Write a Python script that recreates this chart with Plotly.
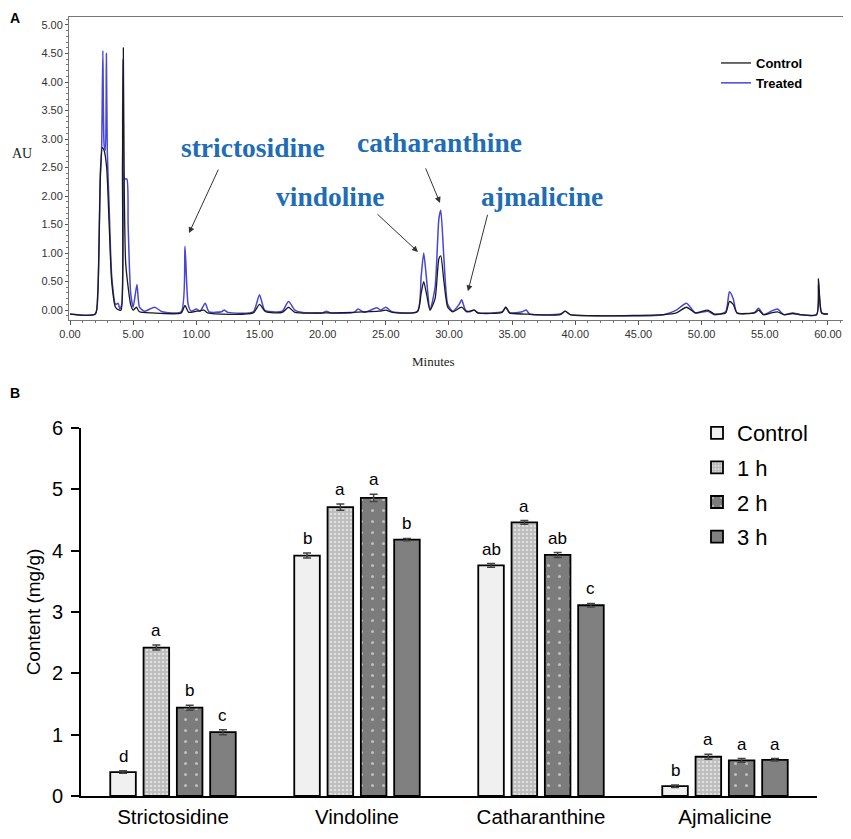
import plotly.graph_objects as go

# ---- panel A: chromatogram traces (minutes, AU)
ctrl_t = [0, 2.0, 2.2, 2.4, 2.55, 2.7, 2.9, 3.1, 3.3, 3.6, 3.9, 4.05, 4.15, 4.22, 4.3, 4.4, 4.55, 4.8, 5.0,
          5.25, 5.5, 6.5, 8.8, 9.1, 9.4, 10.6, 10.9, 14.5, 15.0, 15.5, 16.8, 17.3, 17.8, 20.0, 24.5, 25.0,
          25.5, 27.5, 27.8, 28.0, 28.25, 28.5, 28.9, 29.2, 29.35, 29.6, 29.9, 30.3, 31.0, 31.4, 32.0, 32.3,
          34.2, 34.5, 34.8, 36.0, 38.8, 39.2, 39.6, 42.0, 47.0, 48.0, 48.8, 49.5, 50.5, 51.0, 51.9, 52.2,
          52.5, 52.8, 54.2, 54.5, 54.9, 55.5, 56.0, 56.5, 57.2, 57.8, 59.1, 59.25, 59.35, 59.5, 60.0]
ctrl_au = [-0.07, -0.07, 0.3, 2.3, 2.85, 2.8, 2.5, 1.5, 0.5, 0.05, 0.0, 0.0, 2.5, 4.6, 2.0, 0.85, 0.5, 0.1, 0.0,
           0.05, -0.03, -0.05, -0.05, 0.08, -0.04, 0.0, -0.05, -0.05, 0.1, -0.03, -0.04, 0.05, -0.04, -0.05, -0.02, 0.0,
           -0.04, -0.03, 0.3, 0.5, 0.25, 0.0, 0.2, 0.9, 0.95, 0.5, 0.05, -0.03, 0.05, -0.03, 0.0, -0.05,
           -0.04, 0.05, -0.05, -0.07, -0.08, -0.02, -0.08, -0.1, -0.08, -0.05, 0.05, -0.05, 0.0, -0.07, -0.05, 0.15,
           0.1, -0.05, -0.05, 0.0, -0.08, -0.05, -0.03, -0.08, -0.06, -0.08, -0.08, 0.55, 0.2, -0.05, -0.07]

trt_t = [0, 2.0, 2.2, 2.4, 2.5, 2.6, 2.7, 2.8, 2.88, 2.95, 3.1, 3.3, 3.6, 3.8, 3.95, 4.1, 4.2, 4.3, 4.5, 4.6,
         4.8, 5.0, 5.3, 5.5, 5.9, 6.7, 7.3, 8.8, 9.1, 9.35, 9.6, 10.0, 10.3, 10.7, 11.0, 12.0, 12.2, 12.5,
         14.5, 15.0, 15.4, 16.0, 16.8, 17.3, 17.8, 18.3, 20.0, 20.3, 20.6, 22.5, 22.8, 23.3, 24.3, 24.6,
         25.0, 25.5, 27.5, 27.8, 28.0, 28.2, 28.5, 28.9, 29.2, 29.35, 29.6, 29.9, 30.3, 30.8, 31.0, 31.3,
         31.6, 32.0, 32.3, 34.2, 34.5, 34.8, 35.8, 36.1, 36.4, 38.8, 39.2, 39.6, 42.0, 47.0, 48.0, 48.8,
         49.5, 50.5, 51.0, 51.9, 52.2, 52.5, 52.8, 54.2, 54.5, 54.9, 55.5, 56.0, 56.5, 57.2, 57.8, 59.1,
         59.25, 59.35, 59.5, 60.0]
trt_au = [-0.07, -0.07, 0.3, 2.4, 2.8, 4.55, 2.9, 2.8, 4.5, 2.8, 1.8, 0.6, 0.1, 0.12, 0.02, 0.1, 4.4, 2.3, 2.3, 1.5,
          0.3, 0.05, 0.45, 0.05, -0.02, 0.05, -0.03, -0.03, 1.12, 0.1, -0.02, 0.02, -0.02, 0.12, -0.03, -0.03, 0.0, -0.04,
          -0.03, 0.27, 0.0, -0.03, -0.02, 0.15, 0.0, -0.04, -0.05, -0.02, -0.05, -0.04, 0.02, -0.04, 0.04, 0.0,
          0.05, -0.03, -0.02, 0.6, 1.0, 0.6, 0.0, 0.4, 1.6, 1.75, 0.9, 0.1, -0.02, 0.1, 0.18, 0.0,
          -0.03, 0.0, -0.05, -0.03, 0.05, -0.05, -0.03, 0.0, -0.07, -0.07, -0.02, -0.08, -0.1, -0.08, 0.0, 0.12,
          -0.05, -0.02, -0.08, -0.03, 0.32, 0.2, -0.05, -0.04, 0.03, -0.08, -0.02, 0.02, -0.08, -0.05, -0.08, -0.08,
          0.45, 0.15, -0.05, -0.07]

# ---- panel B: alkaloid content (mg/g)
compounds = ["Strictosidine", "Vindoline", "Catharanthine", "Ajmalicine"]
groups = ["Control", "1 h", "2 h", "3 h"]
content = {
    "Control": [0.39, 3.92, 3.76, 0.16],
    "1 h": [2.42, 4.71, 4.46, 0.64],
    "2 h": [1.44, 4.86, 3.93, 0.58],
    "3 h": [1.04, 4.18, 3.11, 0.59],
}
errors = {
    "Control": [0.02, 0.04, 0.03, 0.02],
    "1 h": [0.04, 0.05, 0.03, 0.04],
    "2 h": [0.04, 0.06, 0.04, 0.03],
    "3 h": [0.04, 0.02, 0.03, 0.02],
}
letters = {
    "Control": ["d", "b", "ab", "b"],
    "1 h": ["a", "a", "a", "a"],
    "2 h": ["b", "a", "ab", "a"],
    "3 h": ["c", "b", "c", "a"],
}

# the page body has an 8px margin, so the figure sits at (8, 8) in the window
OFF = 8
W, H = 851 - 2 * OFF, 839 - 2 * OFF
def px(x): return (x - OFF) / W
def py(y): return 1 - (y - OFF) / H

fig = go.Figure()

# chromatogram
fig.add_trace(go.Scatter(x=trt_t, y=trt_au, mode="lines", name="Treated",
                         line=dict(color="#4646d8", width=1.5, shape="spline", smoothing=0.6),
                         xaxis="x", yaxis="y", legend="legend"))
fig.add_trace(go.Scatter(x=ctrl_t, y=ctrl_au, mode="lines", name="Control",
                         line=dict(color="#1a1a1a", width=1.3, shape="spline", smoothing=0.6),
                         xaxis="x", yaxis="y", legend="legend"))

# bars
styles = {
    "Control": dict(color="#f0f0f0", pattern=dict(shape="")),
    "1 h": dict(color="#c4c4c4", pattern=dict(shape=".", fgcolor="white", bgcolor="#bcbcbc", size=4, solidity=0.35)),
    "2 h": dict(color="#7c7c7c", pattern=dict(shape=".", fgcolor="white", bgcolor="#7c7c7c", size=11, solidity=0.06)),
    "3 h": dict(color="#808080", pattern=dict(shape="")),
}
for g in groups:
    fig.add_trace(go.Bar(
        x=compounds, y=content[g], name=g, xaxis="x2", yaxis="y2", legend="legend2", legendgroup=g,
        marker=dict(color=styles[g]["color"], pattern=styles[g]["pattern"],
                    line=dict(color="black", width=1.8)),
        error_y=dict(type="data", array=errors[g], color="#444", thickness=1.5, width=4),
    ))

bargap = 0.276
slot = (1 - bargap) / len(groups)
ann = []
for j, g in enumerate(groups):
    for i in range(len(compounds)):
        ann.append(dict(x=i + (j - 1.5) * slot, y=content[g][i] + errors[g][i], xref="x2", yref="y2",
                        text=letters[g][i], showarrow=False, yanchor="bottom", yshift=3,
                        font=dict(family="Arial", size=17, color="black")))

# compound labels + arrows on the chromatogram
lab_font = dict(family="Liberation Serif, Times New Roman", size=27.5, color="#1f6db5")
for txt, x, y in [("<b>strictosidine</b>", 253, 148), ("<b>catharanthine</b>", 439, 143),
                  ("<b>vindoline</b>", 330, 196), ("<b>ajmalicine</b>", 542, 196)]:
    ann.append(dict(x=px(x), y=py(y), xref="paper", yref="paper", text=txt, showarrow=False,
                    xanchor="center", yanchor="middle", font=lab_font))
for tx, ty, ax, ay in [(9.42, 1.35, 30, -65), (27.55, 1.02, -42, -39), (29.29, 1.88, -15, -36), (31.5, 0.33, 20, -78)]:
    ann.append(dict(x=tx, y=ty, xref="x", yref="y", text="", showarrow=True, arrowhead=2, arrowsize=1.2,
                    arrowwidth=1, arrowcolor="#333", ax=ax, ay=ay))

for txt, x, y, fnt in [
    ("<b>A</b>", 15, 18, dict(family="Arial", size=14, color="black")),
    ("<b>B</b>", 15, 393, dict(family="Arial", size=14, color="black")),
    ("AU", 22, 153, dict(family="Liberation Serif, Times New Roman", size=14, color="#222")),
    ("Minutes", 433, 362, dict(family="Liberation Serif, Times New Roman", size=13, color="#222")),
]:
    ann.append(dict(x=px(x), y=py(y), xref="paper", yref="paper", text=txt, showarrow=False,
                    xanchor="center", yanchor="middle", font=fnt))

tickA = dict(family="Liberation Sans Narrow, Arial", size=11, color="#333")
fig.update_layout(
    width=W, height=H, margin=dict(l=0, r=0, t=0, b=0, autoexpand=False),
    paper_bgcolor="white", plot_bgcolor="white", showlegend=True,
    barmode="group", bargap=bargap, bargroupgap=0.232,
    annotations=ann,
    xaxis=dict(domain=[px(69), px(843)], range=[-0.08, 61.19], anchor="y", tickmode="linear", tick0=0, dtick=5,
               tickformat=".2f", ticks="outside", ticklen=4, tickcolor="#555", showline=True, mirror=True,
               linecolor="#777", linewidth=1, showgrid=False, zeroline=False, tickfont=tickA, automargin=False,
               minor=dict(ticks="outside", dtick=1, ticklen=2, tickcolor="#777")),
    yaxis=dict(domain=[py(320), py(17)], range=[-0.174, 5.14], anchor="x", tickmode="linear", tick0=0, dtick=0.5,
               tickformat=".2f", ticks="outside", ticklen=3, tickcolor="#555", showline=True, mirror=True,
               linecolor="#777", linewidth=1, showgrid=False, zeroline=False, tickfont=tickA, automargin=False,
               minor=dict(ticks="outside", dtick=0.1, ticklen=2, tickcolor="#777")),
    xaxis2=dict(domain=[px(81), px(817)], range=[-0.5, 3.5], anchor="y2", showline=True, linecolor="black",
                linewidth=1.8, ticks="", showgrid=False, zeroline=False, ticklabelstandoff=1, automargin=False,
                tickfont=dict(family="Arial", size=20.5, color="black")),
    yaxis2=dict(domain=[py(796), py(428)], range=[0, 6], anchor="x2", tickmode="linear", dtick=1,
                showline=True, linecolor="black", linewidth=1.8, ticks="outside", ticklen=8, tickwidth=1.8,
                tickcolor="black", showgrid=False, zeroline=False, automargin=False, ticklabelstandoff=4,
                tickfont=dict(family="Arial", size=20, color="black"),
                title=dict(text="Content (mg/g)", font=dict(family="Arial", size=19, color="black"), standoff=6)),
    legend=dict(x=px(716), y=py(48), xanchor="left", yanchor="top", bgcolor="rgba(0,0,0,0)",
                traceorder="reversed", font=dict(family="Arial", size=13, color="black", weight="bold")),
    legend2=dict(x=px(697), y=py(412), xanchor="left", yanchor="top", bgcolor="rgba(0,0,0,0)",
                 traceorder="grouped", tracegroupgap=3, font=dict(family="Arial", size=22, color="black")),
)

fig.write_html("out.html")
